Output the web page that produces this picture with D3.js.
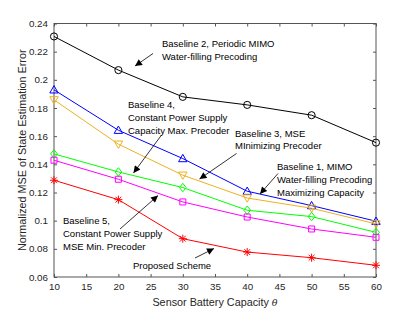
<!DOCTYPE html>
<html><head><meta charset="utf-8">
<script src="https://cdn.jsdelivr.net/npm/d3@7"></script>
<style>body{margin:0;background:#fff}svg{display:block;font-family:"Liberation Sans",Arial,sans-serif}</style>
</head><body><svg id="c" width="415" height="312"></svg>
<script>
const xValues = [10, 20, 30, 40, 50, 60];
const baseline2 = [0.2308, 0.2069, 0.1879, 0.1822, 0.1749, 0.1554];
const baseline4 = [0.1929, 0.1642, 0.1441, 0.1209, 0.1107, 0.0996];
const baseline3 = [0.1858, 0.1543, 0.1323, 0.1161, 0.1088, 0.0977];
const baseline1 = [0.1474, 0.1346, 0.1235, 0.1074, 0.1029, 0.0917];
const baseline5 = [0.1429, 0.1294, 0.1133, 0.1026, 0.0941, 0.0882];
const proposed  = [0.1287, 0.1149, 0.0872, 0.0777, 0.0737, 0.0683];
const xTicks = [10, 15, 20, 25, 30, 35, 40, 45, 50, 55, 60];
const yTicks = [0.06, 0.08, 0.1, 0.12, 0.14, 0.16, 0.18, 0.2, 0.22, 0.24];
const xLabel = "Sensor Battery Capacity ";
const yLabel = "Normalized MSE of State Estimation Error";

const series = [
  {values: baseline2, color: "#000000", marker: "circle"},
  {values: baseline4, color: "#0000ff", marker: "triUp"},
  {values: baseline3, color: "#edb120", marker: "triDown"},
  {values: baseline1, color: "#00ff00", marker: "diamond"},
  {values: baseline5, color: "#ff00ff", marker: "square"},
  {values: proposed,  color: "#ff0000", marker: "asterisk"}
];

const annotations = [
  {lines: ["Baseline 2, Periodic MIMO", "Water-filling Precoding"], x: 162, y: 44, arrow: [153, 53.5, 135, 66]},
  {lines: ["Baseline 4,", "Constant Power Supply", "Capacity Max. Precoder"], x: 128, y: 105, arrow: [161.5, 135, 133.5, 173]},
  {lines: ["Baseline 3, MSE", "MInimizing Precoder"], x: 235, y: 133.5, arrow: [236.5, 153.5, 199.5, 179]},
  {lines: ["Baseline 1, MIMO", "Water-filling Precoding", "Maximizing Capacity"], x: 277, y: 167, arrow: [278, 173.5, 260, 194]},
  {lines: ["Baseline 5,", "Constant Power Supply", "MSE Min. Precoder"], x: 63, y: 221, arrow: [120, 229, 158, 195.5]},
  {lines: ["Proposed Scheme"], x: 133, y: 266, arrow: [195, 258, 214, 248.5]}
];

const svg = d3.select("#c");
const L = 54, R = 376, T = 23.5, B = 277;
const x = d3.scaleLinear().domain([10, 60]).range([L, R]);
const y = d3.scaleLinear().domain([0.06, 0.24]).range([B, T]);
const axisColor = "#555";

svg.append("rect").attr("x", L).attr("y", T).attr("width", R - L).attr("height", B - T)
  .attr("fill", "#fff").attr("stroke", axisColor).attr("stroke-width", 1);

function styleAxis(g) {
  g.select(".domain").remove();
  g.selectAll(".tick line").attr("stroke", axisColor);
  g.selectAll(".tick text").attr("fill", "#262626").attr("font-size", "9.8px").attr("font-family", "Liberation Sans, Arial, sans-serif");
}
const fmt = d => d3.format("")(+d.toFixed(2));
svg.append("g").attr("transform", `translate(0,${B})`)
  .call(d3.axisBottom(x).tickValues(xTicks).tickSize(-3).tickPadding(6)).call(styleAxis);
svg.append("g").attr("transform", `translate(0,${T})`)
  .call(d3.axisTop(x).tickValues(xTicks).tickSize(-3).tickFormat("")).call(styleAxis);
svg.append("g").attr("transform", `translate(${L},0)`)
  .call(d3.axisLeft(y).tickValues(yTicks).tickSize(-3).tickPadding(6).tickFormat(fmt)).call(styleAxis);
svg.append("g").attr("transform", `translate(${R},0)`)
  .call(d3.axisRight(y).tickValues(yTicks).tickSize(-3).tickFormat("")).call(styleAxis);

const xl = svg.append("text").attr("x", (L + R) / 2).attr("y", 306).attr("text-anchor", "middle")
  .attr("font-size", "10.8px").attr("fill", "#262626");
xl.append("tspan").text(xLabel);
xl.append("tspan").attr("font-style", "italic").attr("font-family", "DejaVu Serif, serif").attr("font-size", "9.5px").text("θ");
svg.append("text").attr("transform", `translate(26,${(T + B) / 2}) rotate(-90)`).attr("text-anchor", "middle")
  .attr("font-size", "10.8px").attr("fill", "#262626").text(yLabel);

const line = d3.line().x((d, i) => x(xValues[i])).y(d => y(d));
function markerPath(type) {
  const s = 4.2;
  switch (type) {
    case "circle": return d3.symbol(d3.symbolCircle, 40)();
    case "triUp": return `M0,${-s}L${s},${s * 0.75}L${-s},${s * 0.75}Z`;
    case "triDown": return `M0,${s}L${s},${-s * 0.75}L${-s},${-s * 0.75}Z`;
    case "diamond": return `M0,${-s}L${s * 0.8},0L0,${s}L${-s * 0.8},0Z`;
    case "square": return `M-3,-3H3V3H-3Z`;
    case "asterisk": return `M-4,0H4M0,-4V4M-2.9,-2.9L2.9,2.9M-2.9,2.9L2.9,-2.9`;
  }
}
series.forEach(s => {
  svg.append("path").datum(s.values).attr("d", line).attr("fill", "none")
    .attr("stroke", s.color).attr("stroke-width", 1);
  svg.selectAll(null).data(s.values).enter().append("path")
    .attr("transform", (d, i) => `translate(${x(xValues[i])},${y(d)})`)
    .attr("d", markerPath(s.marker)).attr("fill", "none").attr("stroke", s.color).attr("stroke-width", 1);
});

svg.append("defs").append("marker").attr("id", "ah").attr("viewBox", "0 0 10 10")
  .attr("refX", 10).attr("refY", 5).attr("markerWidth", 9).attr("markerHeight", 7)
  .attr("markerUnits", "userSpaceOnUse").attr("orient", "auto")
  .append("path").attr("d", "M0,0L10,5L0,10Z").attr("fill", "#000");
annotations.forEach(a => {
  const t = svg.append("text").attr("font-size", "9.5px").attr("fill", "#000");
  a.lines.forEach((ln, i) => t.append("tspan").attr("x", a.x).attr("y", a.y + 3.3 + i * 12.6).text(ln));
  svg.append("line").attr("x1", a.arrow[0]).attr("y1", a.arrow[1]).attr("x2", a.arrow[2]).attr("y2", a.arrow[3])
    .attr("stroke", "#000").attr("stroke-width", 0.8).attr("marker-end", "url(#ah)");
});
</script></body></html>
